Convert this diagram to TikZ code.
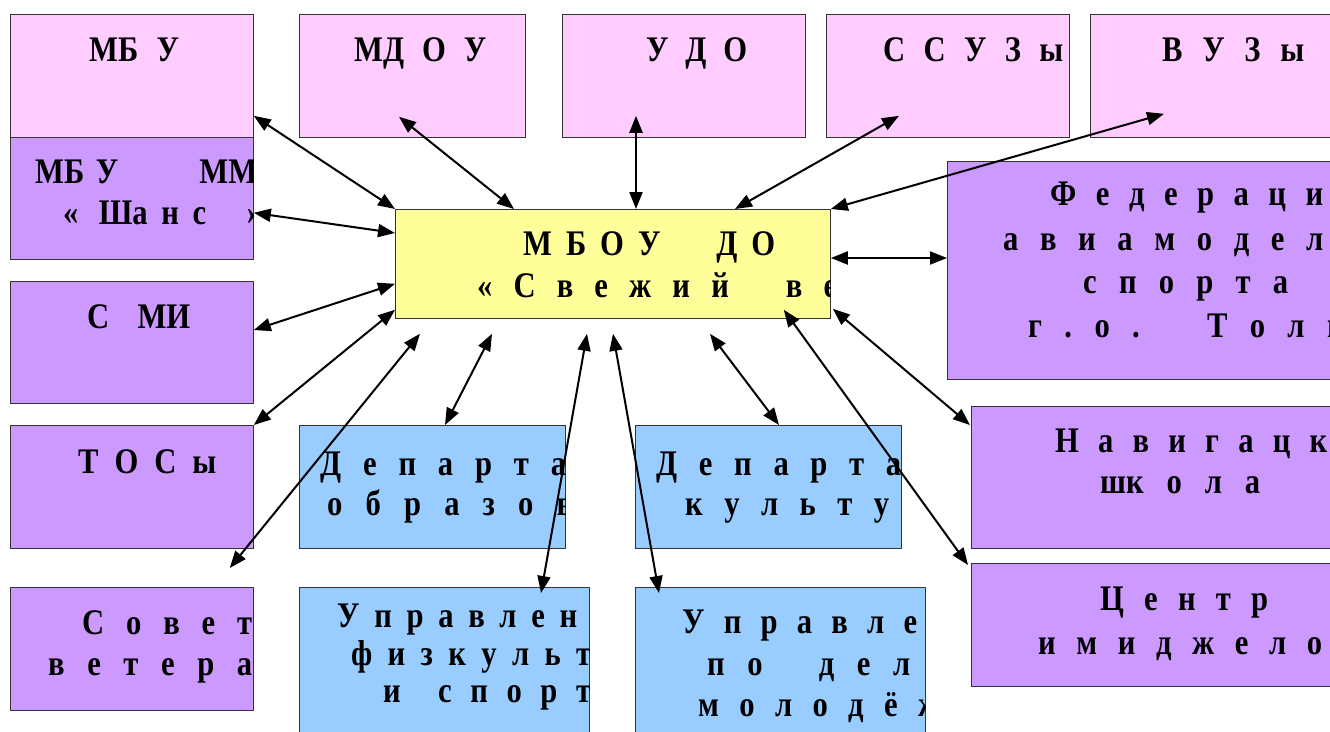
\documentclass[tikz,border=0pt]{standalone}
\usepackage{fontspec}
\setmainfont{Liberation Serif}[FakeStretch=0.85]
\usetikzlibrary{arrows.meta}

\definecolor{pinkbox}{HTML}{FFCCFF}
\definecolor{lilacbox}{HTML}{CC99FF}
\definecolor{yellowbox}{HTML}{FFFF99}
\definecolor{bluebox}{HTML}{99CCFF}

\newcommand{\spread}[2]{\makebox[#1pt][s]{#2}}
\newcommand{\widegap}[1]{\hspace{0pt plus #1fil}}

\tikzset{
  orgbox/.style={draw=black!80, line width=0.8pt, anchor=north west, inner sep=0pt},
  orgtext/.style={anchor=base west, inner sep=0pt,
    font={\bfseries\fontsize{36}{40}\selectfont\frenchspacing\spaceskip=0pt plus 1fil\relax}},
  link/.style={line width=2pt, >={Triangle[length=17pt,width=13pt]}, <->}
}

\begin{document}
\begin{tikzpicture}[x=1pt,y=-1pt]
\useasboundingbox (0,0) rectangle (1330,731);

% boxes
\node[orgbox, fill=pinkbox, minimum width=243pt, minimum height=123pt] (mbu) at (10,14) {};
\node[orgbox, fill=pinkbox, minimum width=226pt, minimum height=123pt] (mdou) at (299,14) {};
\node[orgbox, fill=pinkbox, minimum width=243pt, minimum height=123pt] (udo) at (562,14) {};
\node[orgbox, fill=pinkbox, minimum width=243pt, minimum height=123pt] (ssuz) at (826,14) {};
\node[orgbox, fill=pinkbox, minimum width=260pt, minimum height=123pt] (vuz) at (1090,14) {};
\node[orgbox, fill=lilacbox, minimum width=243pt, minimum height=122pt] (shans) at (10,137) {};
\node[orgbox, fill=lilacbox, minimum width=243pt, minimum height=122pt] (smi) at (10,281) {};
\node[orgbox, fill=lilacbox, minimum width=243pt, minimum height=123pt] (tos) at (10,425) {};
\node[orgbox, fill=lilacbox, minimum width=243pt, minimum height=123pt] (sovet) at (10,587) {};
\node[orgbox, fill=yellowbox, minimum width=435pt, minimum height=109pt] (svej) at (395,209) {};
\node[orgbox, fill=lilacbox, minimum width=400pt, minimum height=218pt] (fed) at (947,161) {};
\node[orgbox, fill=lilacbox, minimum width=380pt, minimum height=142pt] (nav) at (971,406) {};
\node[orgbox, fill=lilacbox, minimum width=380pt, minimum height=123pt] (centr) at (971,563) {};
\node[orgbox, fill=bluebox, minimum width=266pt, minimum height=123pt] (depobr) at (299,425) {};
\node[orgbox, fill=bluebox, minimum width=266pt, minimum height=123pt] (depkul) at (635,425) {};
\node[orgbox, fill=bluebox, minimum width=290pt, minimum height=160pt] (upfiz) at (299,587) {};
\node[orgbox, fill=bluebox, minimum width=290pt, minimum height=160pt] (upmol) at (635,587) {};

% texts, cut at the box edges
\begin{scope}
  \clip (mbu.south west) rectangle (mbu.north east);
  \node[orgtext] (mbu-1) at (89,61) {\spread{90}{МБ У}};
\end{scope}
\begin{scope}
  \clip (mdou.south west) rectangle (mdou.north east);
  \node[orgtext] (mdou-1) at (354,61) {\spread{132}{МД О У}};
\end{scope}
\begin{scope}
  \clip (udo.south west) rectangle (udo.north east);
  \node[orgtext] (udo-1) at (646,61) {\spread{101}{У Д О}};
\end{scope}
\begin{scope}
  \clip (ssuz.south west) rectangle (ssuz.north east);
  \node[orgtext] (ssuz-1) at (883,61) {\spread{180}{С С У З ы}};
\end{scope}
\begin{scope}
  \clip (vuz.south west) rectangle (vuz.north east);
  \node[orgtext] (vuz-1) at (1162,61) {\spread{142}{В У З ы}};
\end{scope}
\begin{scope}
  \clip (shans.south west) rectangle (shans.north east);
  \node[orgtext] (shans-1) at (35,183) {\spread{222}{МБ У\widegap{7}ММ}};
  \node[orgtext] (shans-2) at (63,224) {\spread{199}{«\widegap{1.5}Ша н с\widegap{3}»}};
\end{scope}
\begin{scope}
  \clip (smi.south west) rectangle (smi.north east);
  \node[orgtext] (smi-1) at (87,328) {\spread{103}{С МИ}};
\end{scope}
\begin{scope}
  \clip (tos.south west) rectangle (tos.north east);
  \node[orgtext] (tos-1) at (78,473) {\spread{138}{Т О С ы}};
\end{scope}
\begin{scope}
  \clip (sovet.south west) rectangle (sovet.north east);
  \node[orgtext] (sovet-1) at (82,634) {\spread{170}{С о в е т}};
  \node[orgtext] (sovet-2) at (48,675) {\spread{204}{в е т е р а}};
\end{scope}
\begin{scope}
  \clip (svej.south west) rectangle (svej.north east);
  \node[orgtext] (svej-1) at (523,255) {\spread{252}{М Б О У\widegap{4}Д О}};
  \node[orgtext] (svej-2) at (477,297) {\spread{360}{« С в е ж и й\widegap{2.7}в е}};
\end{scope}
\begin{scope}
  \clip (fed.south west) rectangle (fed.north east);
  \node[orgtext] (fed-1) at (1050,205) {\spread{273}{Ф е д е р а ц и}};
  \node[orgtext] (fed-2) at (1003,250) {\spread{320}{а в и а м о д е л}};
  \node[orgtext] (fed-3) at (1083,293) {\spread{205}{с п о р т а}};
  \node[orgtext] (fed-4) at (1028,337) {\spread{315}{г . о .\widegap{3}Т о л ь}};
\end{scope}
\begin{scope}
  \clip (nav.south west) rectangle (nav.north east);
  \node[orgtext] (nav-1) at (1055,452) {\spread{272}{Н а в и г а ц к}};
  \node[orgtext] (nav-2) at (1100,493) {\spread{160}{шк о л а}};
\end{scope}
\begin{scope}
  \clip (centr.south west) rectangle (centr.north east);
  \node[orgtext] (centr-1) at (1100,610) {\spread{168}{Ц е н т р}};
  \node[orgtext] (centr-2) at (1038,654) {\spread{284}{и м и д ж е л о}};
\end{scope}
\begin{scope}
  \clip (depobr.south west) rectangle (depobr.north east);
  \node[orgtext] (depobr-1) at (320,475) {\spread{246}{Д е п а р т а}};
  \node[orgtext] (depobr-2) at (327,515) {\spread{246}{о б р а з о в}};
\end{scope}
\begin{scope}
  \clip (depkul.south west) rectangle (depkul.north east);
  \node[orgtext] (depkul-1) at (656,475) {\spread{245}{Д е п а р т а}};
  \node[orgtext] (depkul-2) at (685,515) {\spread{204}{к у л ь т у}};
\end{scope}
\begin{scope}
  \clip (upfiz.south west) rectangle (upfiz.north east);
  \node[orgtext] (upfiz-1) at (337,627) {\spread{240}{У п р а в л е н}};
  \node[orgtext] (upfiz-2) at (351,665) {\spread{240}{ф и з к у л ь т}};
  \node[orgtext] (upfiz-3) at (383,702) {\spread{208}{и\widegap{2}с п о р т}};
\end{scope}
\begin{scope}
  \clip (upmol.south west) rectangle (upmol.north east);
  \node[orgtext] (upmol-1) at (682,633) {\spread{235}{У п р а в л е}};
  \node[orgtext] (upmol-2) at (707,675) {\spread{203}{п о\widegap{2.5}д е л}};
  \node[orgtext] (upmol-3) at (698,716) {\spread{242}{м о л о д ё ж}};
\end{scope}

% links to the centre
\draw[link] ([yshift=22pt]mbu.south east) -- (svej.north west);
\draw[link] ([xshift=100pt,yshift=21pt]mdou.south west) -- ([xshift=119pt]svej.north west);
\draw[link] ([xshift=74pt,yshift=22pt]udo.south west) -- ([xshift=241pt]svej.north west);
\draw[link] ([xshift=73pt,yshift=22pt]ssuz.south west) -- ([xshift=340pt]svej.north west);
\draw[link] ([xshift=74pt,yshift=24pt]vuz.south west) -- (svej.north east);
\draw[link] ([yshift=47pt]shans.south east) -- ([yshift=-24pt]svej.north west);
\draw[link] ([yshift=-49pt]smi.north east) -- ([yshift=35pt]svej.south west);
\draw[link] (tos.north east) -- ([yshift=9pt]svej.south west);
\draw[link] ([xshift=-24pt,yshift=19pt]sovet.north east) -- ([xshift=25pt,yshift=-15pt]svej.south west);
\draw[link] ([xshift=146pt]depobr.north west) -- ([xshift=97pt,yshift=-15pt]svej.south west);
\draw[link] ([xshift=242pt,yshift=-6pt]upfiz.north west) -- ([xshift=192pt,yshift=-15pt]svej.south west);
\draw[link] ([xshift=24pt,yshift=-6pt]upmol.north west) -- ([xshift=218pt,yshift=-15pt]svej.south west);
\draw[link] ([xshift=144pt]depkul.north west) -- ([xshift=315pt,yshift=-15pt]svej.south west);
\draw[link] ([yshift=-97pt]fed.north west) -- ([yshift=-49pt]svej.north east);
\draw[link] ([xshift=-1pt,yshift=-19pt]nav.north west) -- ([xshift=2pt,yshift=10pt]svej.south east);
\draw[link] ([xshift=-3pt,yshift=-2pt]centr.north west) -- ([xshift=-47pt,yshift=9pt]svej.south east);
\end{tikzpicture}
\end{document}
